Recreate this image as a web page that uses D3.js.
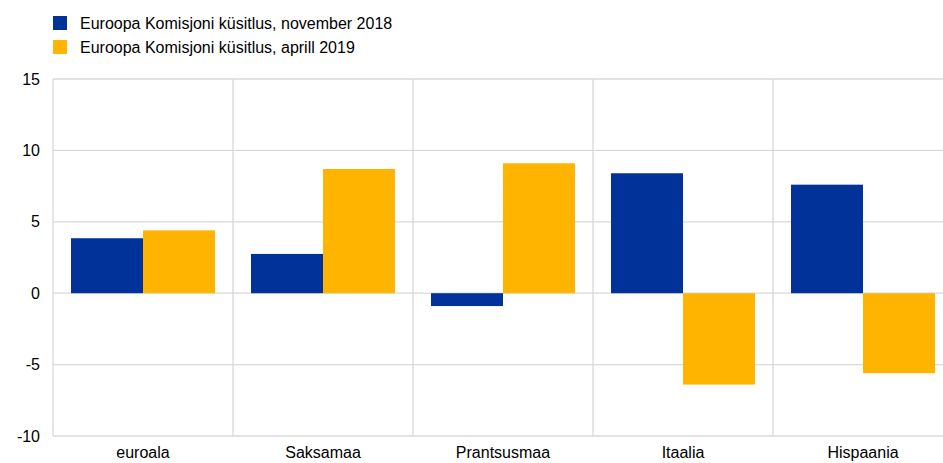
<html lang="et">
<head>
  <meta charset="utf-8">
  <script src="https://d3js.org/d3.v7.min.js"></script>
  <style>
    body { margin: 0; background: #fff; }
    text { font-family: "Liberation Sans", Arial, sans-serif; fill: #000; }
  </style>
</head>
<body>
<svg id="chart" width="943" height="463"></svg>
<script>
// chart data
var categories = ["euroala", "Saksamaa", "Prantsusmaa", "Itaalia", "Hispaania"];
var seriesNames = ["Euroopa Komisjoni küsitlus, november 2018", "Euroopa Komisjoni küsitlus, aprill 2019"];
var nov2018 = [3.85, 2.75, -0.9, 8.4, 7.6];
var apr2019 = [4.4, 8.7, 9.1, -6.4, -5.6];
var yTicks = [-10, -5, 0, 5, 10, 15];
var colors = ["#003299", "#ffb400"];

var svg = d3.select("#chart");

// plot area runs a little past the right edge, like the original
var x = d3.scaleBand().domain(categories).range([53, 953]).paddingInner(0).paddingOuter(0);
var xInner = d3.scaleBand().domain([0, 1]).range([0, x.bandwidth()]).paddingOuter(0.25).paddingInner(0);
var y = d3.scaleLinear().domain([-10, 15]).range([436, 79]);

// horizontal grid
svg.append("g")
  .selectAll("line")
  .data(yTicks)
  .join("line")
  .attr("x1", 53).attr("x2", 953)
  .attr("y1", function(d) { return y(d); })
  .attr("y2", function(d) { return y(d); })
  .attr("stroke", "#d9d9d9")
  .attr("stroke-width", 1.3);

// vertical separators between categories
svg.append("g")
  .selectAll("line")
  .data(categories)
  .join("line")
  .attr("x1", function(d) { return x(d); })
  .attr("x2", function(d) { return x(d); })
  .attr("y1", y(15)).attr("y2", y(-10))
  .attr("stroke", "#d9d9d9")
  .attr("stroke-width", 1.3);

// y axis labels (plain hyphen for negatives, as in the original)
var yAxis = svg.append("g")
  .attr("transform", "translate(40,0)")
  .call(d3.axisLeft(y).tickValues(yTicks).tickSize(0).tickPadding(0)
          .tickFormat(function(d) { return String(d); }));
yAxis.select(".domain").remove();
yAxis.selectAll("text")
  .attr("font-size", "16px")
  .attr("font-family", "Liberation Sans, Arial, sans-serif")
  .attr("fill", "#000");

// bars
var series = [nov2018, apr2019];
series.forEach(function(vals, si) {
  svg.append("g")
    .selectAll("rect")
    .data(vals)
    .join("rect")
    .attr("x", function(d, i) { return x(categories[i]) + xInner(si); })
    .attr("width", xInner.bandwidth())
    .attr("y", function(d) { return y(Math.max(0, d)); })
    .attr("height", function(d) { return Math.abs(y(d) - y(0)); })
    .attr("fill", colors[si]);
});

// category labels
svg.append("g")
  .selectAll("text")
  .data(categories)
  .join("text")
  .attr("x", function(d) { return x(d) + x.bandwidth() / 2; })
  .attr("y", 458)
  .attr("text-anchor", "middle")
  .attr("font-size", "16px")
  .text(function(d) { return d; });

// legend
var legend = svg.append("g");
seriesNames.forEach(function(name, i) {
  legend.append("rect")
    .attr("x", 53).attr("y", 16 + i * 24)
    .attr("width", 14).attr("height", 14)
    .attr("fill", colors[i]);
  legend.append("text")
    .attr("x", 80).attr("y", 29 + i * 24)
    .attr("font-size", "16px")
    .text(name);
});
</script>
</body>
</html>
